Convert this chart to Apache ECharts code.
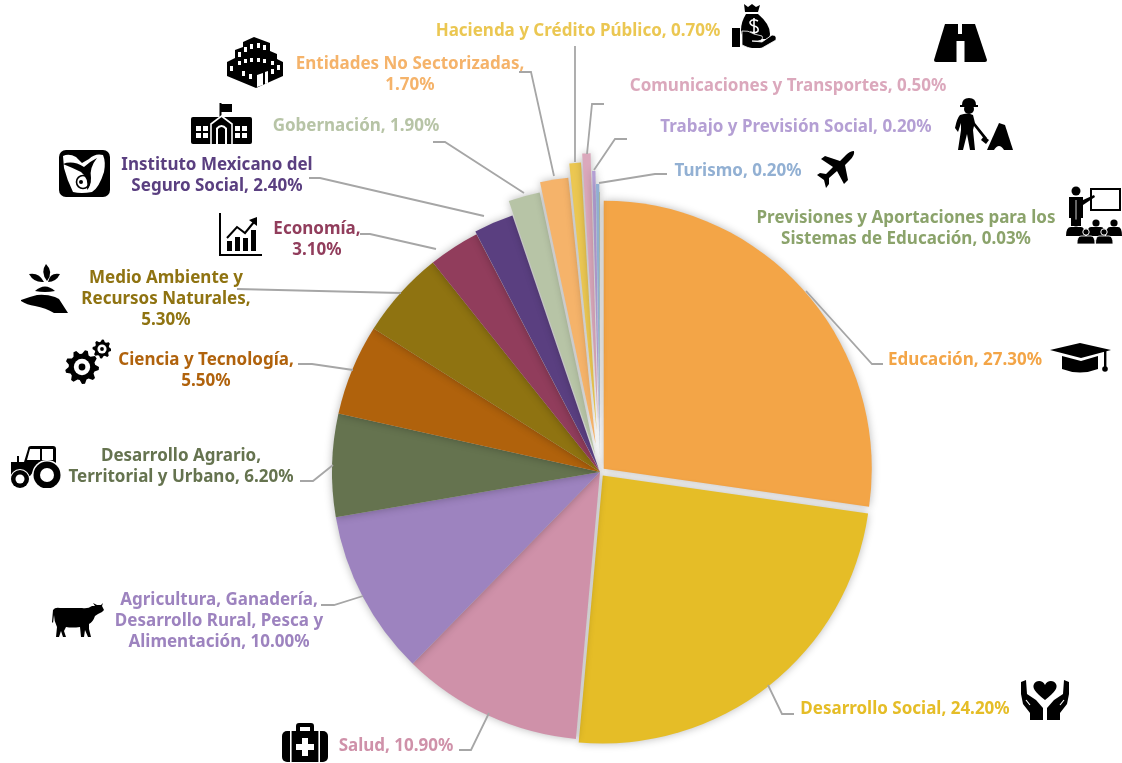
<!DOCTYPE html>
<html>
<head>
<meta charset="utf-8">
<script src="https://cdn.jsdelivr.net/npm/echarts@6/dist/echarts.min.js"></script>
<style>html,body{margin:0;padding:0;background:#fff}#chart{width:1122px;height:763px}</style>
</head>
<body>
<div id="chart"></div>
<script>
const categories = ['Educación','Desarrollo Social','Salud','Agricultura, Ganadería, Desarrollo Rural, Pesca y Alimentación','Desarrollo Agrario, Territorial y Urbano','Ciencia y Tecnología','Medio Ambiente y Recursos Naturales','Economía','Instituto Mexicano del Seguro Social','Gobernación','Entidades No Sectorizadas','Hacienda y Crédito Público','Comunicaciones y Transportes','Trabajo y Previsión Social','Turismo','Previsiones y Aportaciones para los Sistemas de Educación'];
const values = [27.3,24.2,10.9,10,6.2,5.5,5.3,3.1,2.4,1.9,1.7,0.7,0.5,0.2,0.2,0.03];
const colors = ['#F3A547','#E5BD27','#CF91A9','#9D83BF','#65734F','#B0620C','#8F7311','#913D5C','#5A3F80','#B7C4A6','#F5B36A','#EBC752','#DBA8BC','#B49FD4','#92B0D3','#8BA36B'];
const labelLines = ['Educación, 27.30%','Desarrollo Social, 24.20%','Salud, 10.90%','Agricultura, Ganadería,\nDesarrollo Rural, Pesca y\nAlimentación, 10.00%','Desarrollo Agrario,\nTerritorial y Urbano, 6.20%','Ciencia y Tecnología,\n5.50%','Medio Ambiente y\nRecursos Naturales,\n5.30%','Economía,\n3.10%','Instituto Mexicano del\nSeguro Social, 2.40%','Gobernación, 1.90%','Entidades No Sectorizadas,\n1.70%','Hacienda y Crédito Público, 0.70%','Comunicaciones y Transportes, 0.50%','Trabajo y Previsión Social, 0.20%','Turismo, 0.20%','Previsiones y Aportaciones para los\nSistemas de Educación, 0.03%'];
// how far each slice is pulled out of the pie, px
const explode = [5,4.5,0,0,0,0,0,0,3,18,28,42,51,33,20,12];
// label centre, hand placed like the original
const labelPos = [[965,360],[905,709],[396,746],[219,621],[181,467],[206,371],[166,299],[317,240],[217,176],[356,126],[410,75],[578,31],[788,86],[796,127],[738,171],[906,229]];
const leaders = [
  [[806,291],[872,364],[883,364]],
  [[768,685],[782,714],[794,714]],
  [[489,713],[471,750],[459,750]],
  [[363,596],[334,605],[321,605]],
  [[333,465],[313,481],[300,481]],
  [[353,370],[312,364],[298,364]],
  [[401,293],[237,289]],
  [[436,249],[370,234],[360,234]],
  [[484,216],[320,178],[309,178]],
  [[524,193],[445,142],[433,142]],
  [[554,176],[531,72],[519,72]],
  [[575,162],[575,46]],
  [[587,154],[592,104],[604,104]],
  [[594,170],[615,139],[627,139]],
  [[599,183],[655,174],[667,174]]
];

function gear(cx, cy, r, teeth) {
  let pts = [];
  for (let i = 0; i < teeth * 4; i++) {
    const a = i / (teeth * 4) * 2 * Math.PI;
    const rr = (i % 4 < 2) ? r : r * 0.78;
    pts.push((cx + Math.cos(a) * rr).toFixed(1) + ',' + (cy + Math.sin(a) * rr).toFixed(1));
  }
  return '<polygon points="' + pts.join(' ') + '"/><circle cx="' + cx + '" cy="' + cy + '" r="' + (r * 0.48) + '" fill="#fff"/><circle cx="' + cx + '" cy="' + cy + '" r="' + (r * 0.2) + '"/>';
}

// the little black pictograms next to the labels: [x, y, w, h, svg body]
const icons = [
  [1050,343,61,30,'<path d="M0,7 L30,0 L61,7 L31,15Z"/><path d="M12,13 L31,18 L48,13 V26 Q30,33 12,26Z"/><rect x="54" y="8" width="2.4" height="17"/><circle cx="55" cy="26" r="2.8"/>'],
  [1021,680,48,40,'<path d="M24,20 C14,12 11,8 13,4 C15,0 22,0 24,5 C26,0 33,0 35,4 C37,8 34,12 24,20Z"/><path d="M0,2 L5,0 L6,14 L15,20 L22,28 V40 H9 V33 L2,24 L0,14Z"/><path d="M48,2 L43,0 L42,14 L33,20 L26,28 V40 H39 V33 L46,24 L48,14Z"/><path d="M5,20 L9,25 M43,20 L39,25" stroke="#fff" stroke-width="1.2"/>'],
  [282,723,46,39,'<rect x="0" y="8" width="46" height="31" rx="5"/><path d="M14,8 V3 Q14,0 17,0 H29 Q32,0 32,3 V8 H28 V4 H18 V8Z"/><rect x="8" y="8" width="1.6" height="31" fill="#fff"/><rect x="36.4" y="8" width="1.6" height="31" fill="#fff"/><path d="M20,15 H26 V21 H32 V27 H26 V33 H20 V27 H14 V21 H20Z" fill="#fff"/>'],
  [52,603,52,35,'<path d="M1,7 Q3,4 8,5 L30,5 Q36,6 40,3 L43,3 L41,0 L45,2 L49,2 L51,0 L50,3 L52,7 L50,9 L46,11 L43,13 Q41,19 37,21 L37,26 L39,34 L36,34 L33,27 L32,34 L29,34 L28,24 Q20,25 14,24 L12,28 L14,34 L11,34 L9,28 L7,34 L4,34 L5,24 Q2,18 2,12 L1,20 L0,19Z"/>'],
  [10,446,51,42,'<path d="M1,16 H7 V10 H9 V16 H14 L18,3 Q18,0 21,0 H43 Q46,0 46,3 V22 H26 L20,30 H1Z"/><path d="M20,3 H30 V14 H17Z M32,3 H43 V14 H32Z" fill="#fff"/><circle cx="37" cy="29" r="15" fill="#fff"/><circle cx="37" cy="29" r="13.5"/><circle cx="37" cy="29" r="7" fill="#fff"/><circle cx="10" cy="33" r="10" fill="#fff"/><circle cx="10" cy="33" r="9"/><circle cx="10" cy="33" r="4.5" fill="#fff"/>'],
  [65,339,46,45,gear(17,28,17,9) + gear(37,10,9.5,8)],
  [21,264,48,49,'<path d="M0,36 Q8,33 16,31 Q25,30 34,33 L38,35 L47,49 H33 Q25,44 14,42 Q6,41 0,37Z"/><path d="M14,27 Q24,18 34,27 Q24,29 14,27Z"/><path d="M25,0 Q33,8 26,17 Q19,8 25,0Z"/><path d="M8,10 Q18,8 23,18 Q13,19 8,10Z"/><path d="M39,10 Q29,8 27,18 Q35,18 39,10Z"/>'],
  [219,213,43,43,'<rect width="2" height="43"/><rect y="41" width="43" height="2"/><rect x="8" y="28" width="5" height="10"/><rect x="16" y="24" width="5" height="14"/><rect x="24" y="25" width="5" height="13"/><rect x="32" y="17" width="5" height="21"/><path d="M8,25 L18,14 L26,20 L35,9" fill="none" stroke="#000" stroke-width="2"/><path d="M30,7 L38,4 L38,13Z"/>'],
  [59,150,51,47,'<rect width="51" height="47" rx="7"/><path d="M4,6 Q10,3 17,7 L23,13 L30,9 Q36,3 44,5 Q47,12 45,22 Q40,38 33,42 Q22,44 14,42 Q8,30 5,18Z" fill="#fff"/><path d="M4,14 Q14,10 25,17 Q30,12 38,8 Q30,18 32,28 Q32,36 28,40 Q30,28 22,22 Q14,18 4,14Z"/><circle cx="24" cy="32" r="6.5" fill="none" stroke="#000" stroke-width="1.6"/><circle cx="22" cy="32" r="2"/>'],
  [191,103,61,41,'<rect y="14" width="61" height="27" rx="2"/><rect x="28.5" width="2" height="14"/><rect x="30" y="1" width="11" height="8"/><path d="M20,41 V21 L30.5,13 L41,21 V41" fill="#000" stroke="#fff" stroke-width="1.6"/><path d="M25,41 V25 Q30.5,19 36,25 V41Z" fill="#fff"/><path d="M27,41 V26 Q30.5,22 34,26 V41Z"/><rect x="5" y="23" width="12" height="12" fill="#fff"/><rect x="44" y="23" width="12" height="12" fill="#fff"/><path d="M11,23 V35 M5,29 H17 M50,23 V35 M44,29 H56" stroke="#000" stroke-width="2"/>'],
  [227,37,56,51,'<path d="M27,0 L43,6 V14 L50,17 V22 L56,25 V39 L29,51 L0,39 V25 L8,21 V13 L16,10 V5Z"/><path d="M30,38 L36,36 V48 L30,50Z M38,35 L41,34 V46 L38,47Z" fill="#fff"/><path d="M11,15 h3 v5 h-3Z M17,10 h3 v5 h-3Z M23,7 h3 v5 h-3Z M30,6 h3 v5 h-3Z M36,8 h3 v5 h-3Z M11,24 h3 v4 h-3Z M17,22 h3 v4 h-3Z M23,21 h3 v4 h-3Z M30,21 h3 v4 h-3Z M36,22 h3 v4 h-3Z M44,24 h3 v4 h-3Z M3,29 h3 v5 h-3Z M15,34 h3 v5 h-3Z M22,37 h3 v5 h-3Z M44,32 h3 v5 h-3Z M50,28 h3 v5 h-3Z" fill="#fff"/>'],
  [732,4,44,44,'<path d="M12,0 L16,3 L20,0 L24,3 L28,1 L26,8 L13,8Z"/><path d="M14,10 H26 Q38,20 38,30 Q38,34 34,35 H12 Q9,30 9,26 Q9,18 14,10Z"/><path d="M26,17 Q20,14 18,18 Q18,21 22,22 Q27,23 26,27 Q24,30 18,28 M22,14 V31" fill="none" stroke="#fff" stroke-width="1.6"/><rect y="24" width="8" height="19"/><path d="M10,27 Q16,26 22,30 L30,32 Q32,36 26,37 L20,37 L30,38 L40,31 Q45,31 44,36 L30,44 Q22,47 10,41Z" stroke="#fff" stroke-width="0.8"/>'],
  [934,24,53,38,'<path d="M11,0 H41 L53,36 Q53,38 51,38 H2 Q0,38 0,36Z"/><rect x="24" width="4" height="10" fill="#fff"/><rect x="22.5" y="17" width="8" height="21" fill="#fff"/>'],
  [954,98,59,52,'<path d="M8,7 Q8,0 15,0 Q22,0 22,7 H24 V9 H6 V7Z"/><circle cx="15" cy="11" r="5"/><path d="M6,17 Q14,14 19,17 L21,25 L33,40 L31,42 L20,28 L19,32 L21,52 H16 L13,36 L9,52 H4 L7,32 L7,25 L4,34 L1,30 Q3,20 6,17Z"/><path d="M30,38 L35,42 L32,46 L27,42Z"/><path d="M45,25 L51,27 L59,52 H33Z"/><path d="M40,52 Q45,44 50,52Z" fill="#fff"/>'],
  [817,151,38,37,'<path d="M37,0 Q38,4 33,9 L28,14 L31,29 L27,33 L20,20 L12,27 L12,33 L9,37 L7,29 L0,24 L3,22 L9,23 L16,16 L4,8 L8,5 L23,10 L29,4 Q33,0 37,0Z"/>'],
  [1066,186,56,58,'<circle cx="10" cy="5" r="4.5"/><path d="M3,11 H17 V14 L28,9 L29,11 L17,19 V32 H15 V40 H5 V32 H3Z"/><rect x="25" y="3" width="29" height="21" fill="none" stroke="#000" stroke-width="2"/><path d="M10,14 V40" stroke="#fff" stroke-width="0.8"/><circle cx="10" cy="37" r="3.6" fill="#000"/><circle cx="30" cy="37" r="3.6"/><circle cx="48" cy="37" r="3.6"/><path d="M0,50 Q0,41 5,41 H15 Q19,41 19,50Z M21,50 Q21,41 25,41 H35 Q39,41 39,50Z M40,50 Q40,41 44,41 H52 Q56,41 56,50Z"/><circle cx="20" cy="46" r="3.2" stroke="#fff"/><circle cx="38" cy="46" r="3.2" stroke="#fff"/><path d="M11,58 Q11,50 15,50 H25 Q29,50 29,58Z M29.5,58 Q29.5,50 33,50 H43 Q47,50 47,58Z" stroke="#fff" stroke-width="0.8"/>']
];

const chart = echarts.init(document.getElementById('chart'));
const total = values.reduce((a, b) => a + b, 0);
const cx = 600, cy = 472, radius = 268;
let acc = 0;
const series = values.map((v, i) => {
  const start = acc;
  acc += v;
  const mid = (start + v / 2) / total * 2 * Math.PI;
  const off = explode[i];
  return {
    type: 'pie',
    silent: true,
    animation: false,
    radius: radius,
    clockwise: true,
    startAngle: 90 - start / total * 360,
    center: [cx + Math.sin(mid) * off, cy - Math.cos(mid) * off],
    avoidLabelOverlap: false,
    itemStyle: {shadowBlur: 9, shadowColor: 'rgba(0,0,0,0.28)', borderWidth: 0},
    labelLine: {show: false},
    label: {show: false},
    data: [
      {name: categories[i], value: v, itemStyle: {color: colors[i]}},
      {name: '', value: total - v, itemStyle: {color: 'rgba(0,0,0,0)', shadowBlur: 0}}
    ]
  };
});

const textEls = labelLines.map((t, i) => ({
  type: 'text', x: labelPos[i][0], y: labelPos[i][1], z: 5,
  style: {text: t, fill: colors[i], font: 'bold 17px "Noto Sans", sans-serif', align: 'center', verticalAlign: 'middle', lineHeight: 21}
}));
const lineEls = leaders.map(p => ({
  type: 'polyline', z: 4, shape: {points: p}, style: {stroke: '#A6A6A6', lineWidth: 1.8, fill: null}
}));
const iconEls = icons.map(ic => ({
  type: 'image', z: 5,
  style: {
    x: ic[0], y: ic[1], width: ic[2], height: ic[3],
    image: 'data:image/svg+xml;charset=utf-8,' + encodeURIComponent('<svg xmlns="http://www.w3.org/2000/svg" width="' + ic[2] * 2 + '" height="' + ic[3] * 2 + '" viewBox="0 0 ' + ic[2] + ' ' + ic[3] + '">' + ic[4] + '</svg>')
  }
}));

chart.setOption({
  backgroundColor: '#fff',
  series: series,
  graphic: {elements: lineEls.concat(textEls, iconEls)}
});
</script>
</body>
</html>
